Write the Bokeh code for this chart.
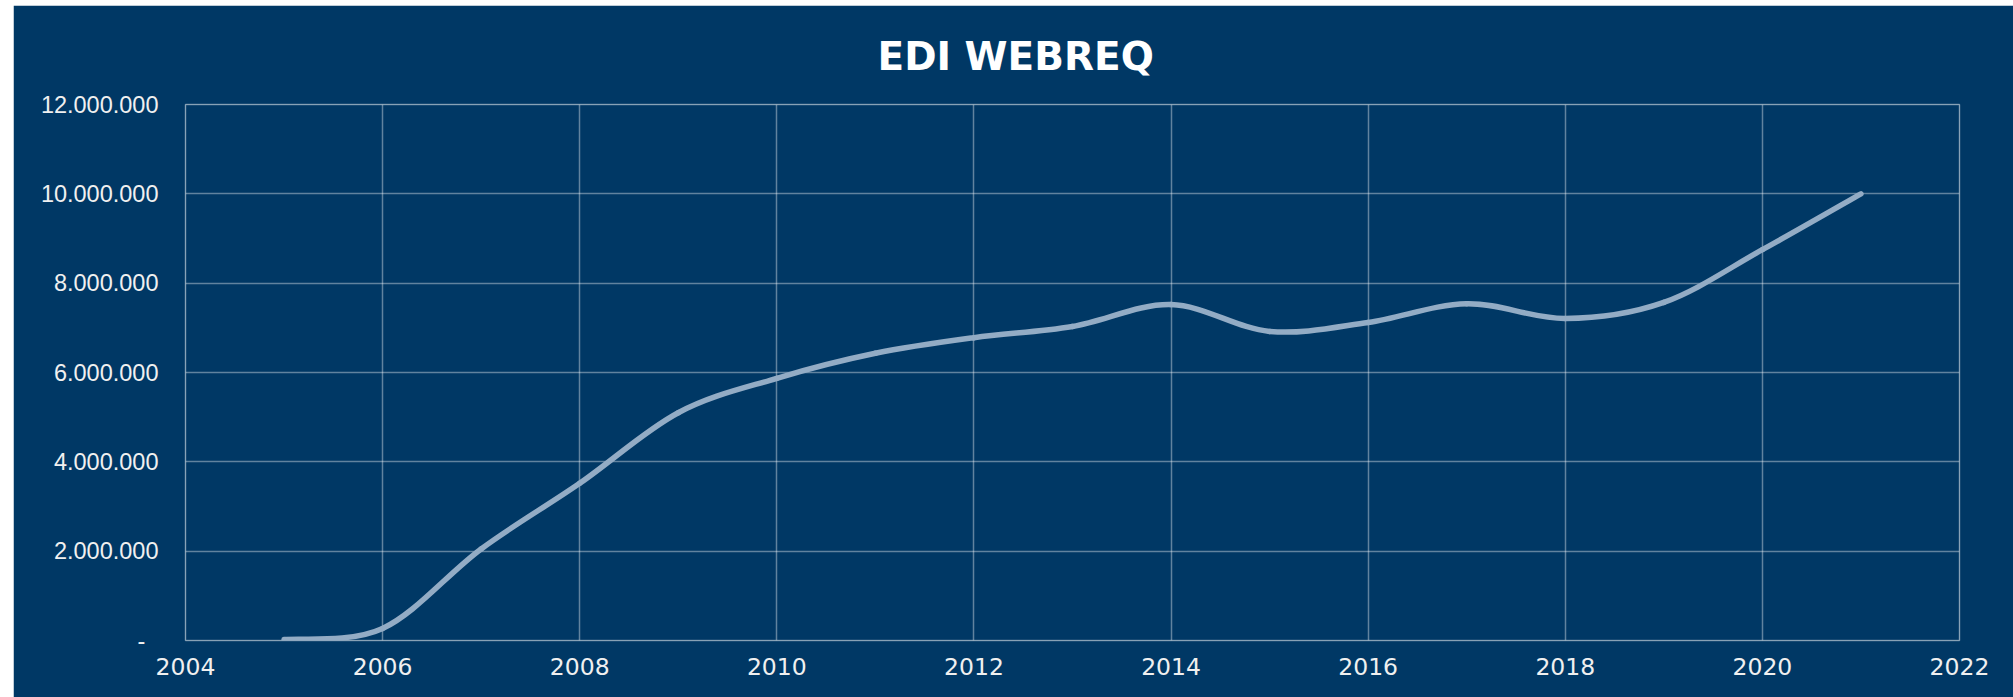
from bokeh.plotting import figure
from bokeh.models import FixedTicker, ColumnDataSource
from bokeh.embed import file_html
from bokeh.resources import INLINE

# ---- data ----
years = [2005, 2006, 2007, 2008, 2009, 2010, 2011, 2012, 2013,
         2014, 2015, 2016, 2017, 2018, 2019, 2020, 2021]
webreq = [20000, 270000, 2050000, 3520000, 5100000, 5870000, 6430000,
          6780000, 7030000, 7520000, 6920000, 7120000, 7540000, 7210000,
          7570000, 8750000, 10000000]
x_ticks = [2004, 2006, 2008, 2010, 2012, 2014, 2016, 2018, 2020, 2022]
y_ticks = [0, 2000000, 4000000, 6000000, 8000000, 10000000, 12000000]
y_tick_labels = ["-\u00a0\u00a0", "2.000.000", "4.000.000", "6.000.000",
                 "8.000.000", "10.000.000", "12.000.000"]
title_text = "EDI WEBREQ"

BG = "#003865"
GRID = "#ffffff"
LINE = "#93acc5"
TXT = "#f0f0f0"

# smooth (Excel-like) curve: cubic Bezier segments through the data points
n = len(years)
def pt(i):
    i = max(0, min(n - 1, i))
    return years[i], webreq[i]
seg = dict(x0=[], y0=[], x1=[], y1=[], cx0=[], cy0=[], cx1=[], cy1=[])
for i in range(n - 1):
    xm, ym = pt(i - 1)
    xa, ya = pt(i)
    xb, yb = pt(i + 1)
    xp, yp = pt(i + 2)
    seg["x0"].append(xa); seg["y0"].append(ya)
    seg["x1"].append(xb); seg["y1"].append(yb)
    seg["cx0"].append(xa + (xb - xm) / 6.0); seg["cy0"].append(ya + (yb - ym) / 6.0)
    seg["cx1"].append(xb - (xp - xa) / 6.0); seg["cy1"].append(yb - (yp - ya) / 6.0)
src = ColumnDataSource(seg)

p = figure(width=2000, height=692, output_backend="svg", toolbar_location=None,
           x_range=(2004, 2022), y_range=(0, 12000000),
           min_border_left=172, min_border_right=54,
           min_border_top=99, min_border_bottom=57,
           title=title_text)
p.margin = (5, 0, 0, 13)
p.background_fill_color = BG
p.border_fill_color = BG
p.outline_line_color = GRID
p.outline_line_alpha = 0.38
p.outline_line_width = 1.5

p.title.align = "left"
p.title.vertical_align = "top"
p.title.text_font = "DejaVu Sans"
p.title.text_font_style = "bold"
p.title.text_font_size = "39px"
p.title.text_color = "#ffffff"
p.title.standoff = 48
p.title.offset = 692

p.bezier(x0="x0", y0="y0", x1="x1", y1="y1", cx0="cx0", cy0="cy0",
         cx1="cx1", cy1="cy1", source=src, line_color=LINE,
         line_width=5.5, line_cap="round")

for ax in (p.xaxis[0], p.yaxis[0]):
    ax.axis_line_color = None
    ax.major_tick_line_color = None
    ax.minor_tick_line_color = None
    ax.major_tick_out = 0
    ax.major_tick_in = 0
    ax.minor_tick_out = 0
    ax.minor_tick_in = 0
    ax.major_label_text_color = TXT

p.xaxis.ticker = FixedTicker(ticks=x_ticks)
p.xaxis.major_label_text_font = "DejaVu Sans"
p.xaxis.major_label_text_font_size = "23.5px"
p.xaxis.major_label_standoff = 17

p.yaxis.ticker = FixedTicker(ticks=y_ticks)
p.yaxis.major_label_overrides = dict(zip(y_ticks, y_tick_labels))
p.yaxis.major_label_text_font = "Liberation Sans"
p.yaxis.major_label_text_font_size = "23.5px"
p.yaxis.major_label_standoff = 27

p.xgrid.ticker = FixedTicker(ticks=x_ticks)
p.ygrid.ticker = FixedTicker(ticks=y_ticks)
for g in (p.xgrid[0], p.ygrid[0]):
    g.grid_line_color = GRID
    g.grid_line_alpha = 0.38
    g.grid_line_width = 1.5

open("out.html", "w").write(file_html(p, INLINE))
